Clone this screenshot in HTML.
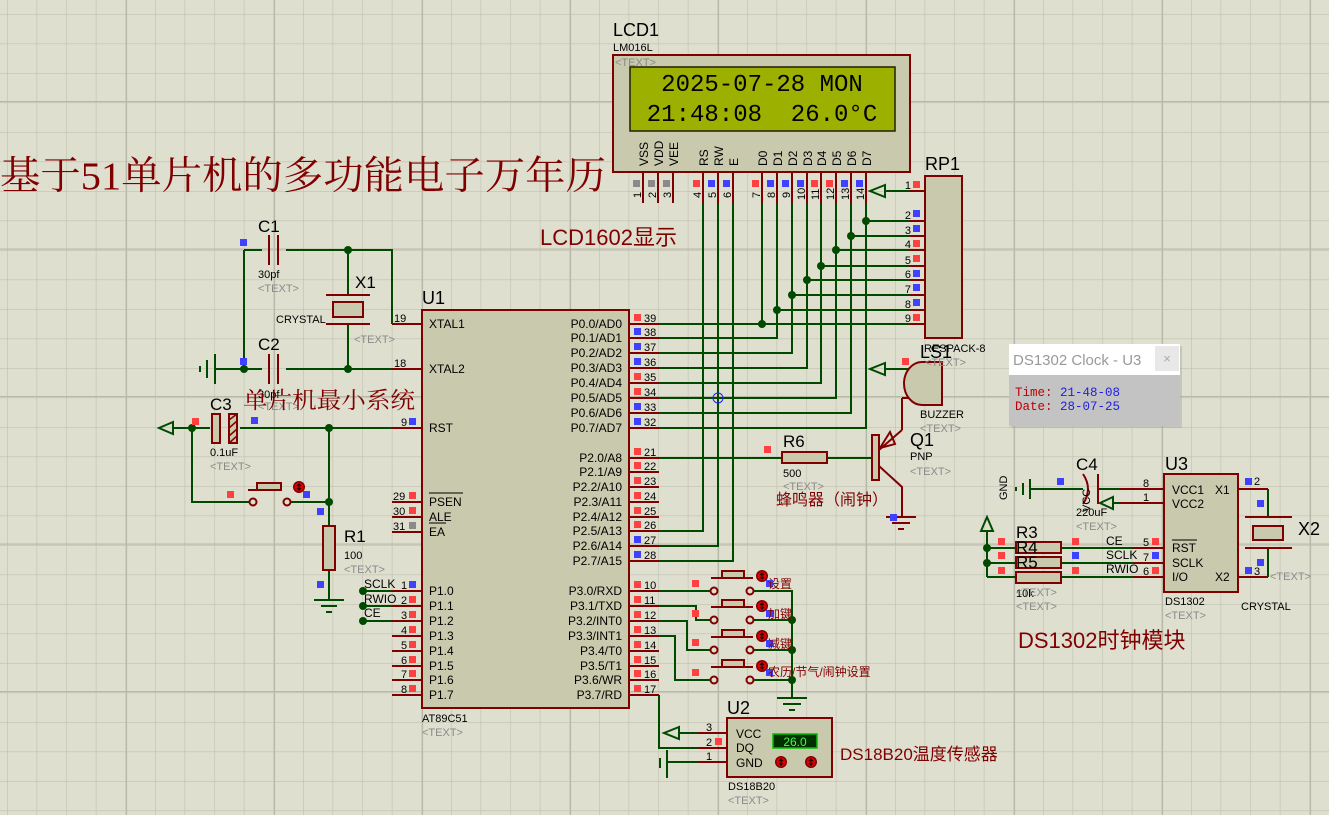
<!DOCTYPE html>
<html><head><meta charset="utf-8">
<style>
html,body{margin:0;padding:0;background:#dfdfd0;}
svg{display:block;}
text{font-family:"Liberation Sans","Noto Sans CJK SC",sans-serif;}
.p{font-size:12px;fill:#000;}
.s{font-size:11px;fill:#000;}
.g{font-size:11px;fill:#8a8a8a;}
.L{font-size:17px;fill:#000;}
.cn{fill:#800000;}
.w{stroke:#004a00;stroke-width:2;fill:none;}
.r{stroke:#800000;stroke-width:2;fill:none;}
.b{stroke:#800000;stroke-width:2;fill:#c9c9ad;}
</style></head><body>
<svg width="1329" height="815" viewBox="0 0 1329 815" xmlns="http://www.w3.org/2000/svg">
<defs>
<pattern id="gm" x="7" y="14" width="29.6" height="29.5" patternUnits="userSpaceOnUse">
<path d="M0 0V29.5M0 0H29.6" stroke="#c0c0b0" stroke-width="1.2" fill="none"/>
</pattern>
<pattern id="gM" x="126" y="101" width="148" height="147.5" patternUnits="userSpaceOnUse">
<path d="M0 0V147.5M0 0H148" stroke="#b8b8a8" stroke-width="2.2" fill="none"/>
</pattern>
<g id="dot"><circle r="4" fill="#004a00"/></g>
<g id="rq"><rect x="-3" y="-3" width="7" height="7" fill="#ff4040"/></g>
<g id="bq"><rect x="-3" y="-3" width="7" height="7" fill="#4040ff"/></g>
<g id="gq"><rect x="-3" y="-3" width="7" height="7" fill="#8a8a8a"/></g>
<g id="ico"><circle r="6" fill="#800000"/><circle r="4.5" fill="#e00000"/><path d="M0 -3V3M-2 -1L0 -3L2 -1M-2 1L0 3L2 1" stroke="#000" stroke-width="1" fill="none"/></g>
</defs>
<rect width="1329" height="815" fill="#dfdfd0"/>
<rect width="1329" height="815" fill="url(#gm)"/>
<rect width="1329" height="815" fill="url(#gM)"/>

<!-- Title -->
<text x="0" y="189" textLength="606" lengthAdjust="spacingAndGlyphs" style="font-family:'Liberation Serif','Noto Serif CJK SC',serif;font-size:39px;fill:#800000">基于51单片机的多功能电子万年历</text>
<text x="540" y="245" class="cn" style="font-size:22px">LCD1602显示</text>

<!-- LCD -->
<text x="613" y="36" class="L" style="font-size:18px">LCD1</text>
<text x="613" y="51" class="s">LM016L</text>
<rect x="613" y="55" width="297" height="117" class="b"/>
<text x="615" y="66" class="g">&lt;TEXT&gt;</text>
<rect x="630" y="67" width="265" height="64" fill="#9cb000" stroke="#202000" stroke-width="1.5"/>
<text x="762" y="91" text-anchor="middle" style="font-family:'Liberation Mono',monospace;font-size:24px;fill:#000">2025-07-28 MON</text>
<text x="762" y="121" text-anchor="middle" style="font-family:'Liberation Mono',monospace;font-size:24px;fill:#000" xml:space="preserve">21:48:08  26.0°C</text>
<g class="p" style="font-size:12px">
<text transform="translate(648,166) rotate(-90)">VSS</text>
<text transform="translate(663,166) rotate(-90)">VDD</text>
<text transform="translate(678,166) rotate(-90)">VEE</text>
<text transform="translate(708,166) rotate(-90)">RS</text>
<text transform="translate(723,166) rotate(-90)">RW</text>
<text transform="translate(738,166) rotate(-90)">E</text>
<text transform="translate(767,166) rotate(-90)">D0</text>
<text transform="translate(782,166) rotate(-90)">D1</text>
<text transform="translate(797,166) rotate(-90)">D2</text>
<text transform="translate(812,166) rotate(-90)">D3</text>
<text transform="translate(826,166) rotate(-90)">D4</text>
<text transform="translate(841,166) rotate(-90)">D5</text>
<text transform="translate(856,166) rotate(-90)">D6</text>
<text transform="translate(871,166) rotate(-90)">D7</text>
</g>
<g class="r"><path d="M643 172V203M658 172V203M673 172V203M703 172V203M718 172V203M733 172V203M762 172V203M777 172V203M792 172V203M807 172V203M821 172V203M836 172V203M851 172V203M866 172V203"/></g>
<g class="s">
<text transform="translate(641,198) rotate(-90)">1</text><text transform="translate(656,198) rotate(-90)">2</text><text transform="translate(671,198) rotate(-90)">3</text>
<text transform="translate(701,198) rotate(-90)">4</text><text transform="translate(716,198) rotate(-90)">5</text><text transform="translate(731,198) rotate(-90)">6</text>
<text transform="translate(760,198) rotate(-90)">7</text><text transform="translate(775,198) rotate(-90)">8</text><text transform="translate(790,198) rotate(-90)">9</text>
<text transform="translate(805,200) rotate(-90)">10</text><text transform="translate(819,200) rotate(-90)">11</text><text transform="translate(834,200) rotate(-90)">12</text>
<text transform="translate(849,200) rotate(-90)">13</text><text transform="translate(864,200) rotate(-90)">14</text>
</g>
<use href="#gq" x="636" y="183"/><use href="#gq" x="651" y="183"/><use href="#gq" x="666" y="183"/>
<use href="#rq" x="696" y="183"/><use href="#bq" x="711" y="183"/><use href="#bq" x="726" y="183"/>
<use href="#rq" x="755" y="183"/><use href="#bq" x="770" y="183"/><use href="#bq" x="785" y="183"/><use href="#bq" x="800" y="183"/>
<use href="#rq" x="814" y="183"/><use href="#rq" x="829" y="183"/><use href="#bq" x="844" y="183"/><use href="#bq" x="859" y="183"/>

<!-- LCD wires -->
<g class="w">
<path d="M703 203V531H659M718 203V546H659M733 203V561H659"/>
<path d="M762 203V324M777 203V338H659M792 203V353H659M807 203V368H659M821 203V383H659M836 203V398H659M851 203V413H659M866 203V428H659"/>
<path d="M659 324H910M777 310H910M792 295H910M807 280H910M821 266H910M836 250H910M851 236H910M866 221H910"/>
<path d="M885 191H910"/>
<path d="M885 185L870 191L885 197Z"/>
</g>
<use href="#dot" x="762" y="324"/><use href="#dot" x="777" y="310"/><use href="#dot" x="792" y="295"/><use href="#dot" x="807" y="280"/>
<use href="#dot" x="821" y="266"/><use href="#dot" x="836" y="250"/><use href="#dot" x="851" y="236"/><use href="#dot" x="866" y="221"/>
<circle cx="718" cy="398" r="5" stroke="#2020ff" stroke-width="1" fill="none"/>

<!-- RP1 -->
<text x="925" y="170" class="L" style="font-size:18px">RP1</text>
<rect x="925" y="176" width="37" height="162" class="b"/>
<g class="r"><path d="M910 191H925M910 221H925M910 236H925M910 250H925M910 266H925M910 280H925M910 295H925M910 310H925M910 324H925"/></g>
<g class="s" text-anchor="end">
<text x="911" y="189">1</text><text x="911" y="219">2</text><text x="911" y="234">3</text><text x="911" y="248">4</text><text x="911" y="264">5</text><text x="911" y="278">6</text><text x="911" y="293">7</text><text x="911" y="308">8</text><text x="911" y="322">9</text>
</g>
<use href="#rq" x="916" y="184"/><use href="#bq" x="916" y="213"/><use href="#bq" x="916" y="228"/><use href="#rq" x="916" y="243"/><use href="#rq" x="916" y="258"/><use href="#bq" x="916" y="273"/><use href="#bq" x="916" y="287"/><use href="#bq" x="916" y="302"/><use href="#rq" x="916" y="317"/>
<text x="924" y="352" class="s">RESPACK-8</text>

<!-- U1 -->
<text x="422" y="304" class="L" style="font-size:18px">U1</text>
<rect x="422" y="310" width="207" height="398" class="b"/>
<g class="r">
<path d="M392 324H422M392 369H422M392 428H422M392 502H422M392 517H422M392 532H422"/>
<path d="M392 591H422M392 606H422M392 621H422M392 636H422M392 651H422M392 666H422M392 680H422M392 695H422"/>
<path d="M629 324H659M629 338H659M629 353H659M629 368H659M629 383H659M629 398H659M629 413H659M629 428H659"/>
<path d="M629 458H659M629 472H659M629 487H659M629 502H659M629 517H659M629 531H659M629 546H659M629 561H659"/>
<path d="M629 591H659M629 606H659M629 621H659M629 636H659M629 651H659M629 666H659M629 680H659M629 695H659"/>
</g>
<g class="p">
<text x="429" y="328">XTAL1</text><text x="429" y="373">XTAL2</text><text x="429" y="432">RST</text>
<text x="429" y="506">PSEN</text><text x="429" y="521">ALE</text><text x="429" y="536">EA</text>
<text x="429" y="595">P1.0</text><text x="429" y="610">P1.1</text><text x="429" y="625">P1.2</text><text x="429" y="640">P1.3</text>
<text x="429" y="655">P1.4</text><text x="429" y="670">P1.5</text><text x="429" y="684">P1.6</text><text x="429" y="699">P1.7</text>
</g>
<path d="M429 493H463M429 523H446" stroke="#000" stroke-width="1"/>
<g class="p" text-anchor="end">
<text x="622" y="328">P0.0/AD0</text><text x="622" y="342">P0.1/AD1</text><text x="622" y="357">P0.2/AD2</text><text x="622" y="372">P0.3/AD3</text>
<text x="622" y="387">P0.4/AD4</text><text x="622" y="402">P0.5/AD5</text><text x="622" y="417">P0.6/AD6</text><text x="622" y="432">P0.7/AD7</text>
<text x="622" y="462">P2.0/A8</text><text x="622" y="476">P2.1/A9</text><text x="622" y="491">P2.2/A10</text><text x="622" y="506">P2.3/A11</text>
<text x="622" y="521">P2.4/A12</text><text x="622" y="535">P2.5/A13</text><text x="622" y="550">P2.6/A14</text><text x="622" y="565">P2.7/A15</text>
<text x="622" y="595">P3.0/RXD</text><text x="622" y="610">P3.1/TXD</text><text x="622" y="625">P3.2/INT0</text><text x="622" y="640">P3.3/INT1</text>
<text x="622" y="655">P3.4/T0</text><text x="622" y="670">P3.5/T1</text><text x="622" y="684">P3.6/WR</text><text x="622" y="699">P3.7/RD</text>
</g>
<g class="s">
<text x="644" y="322">39</text><text x="644" y="336">38</text><text x="644" y="351">37</text><text x="644" y="366">36</text><text x="644" y="381">35</text><text x="644" y="396">34</text><text x="644" y="411">33</text><text x="644" y="426">32</text>
<text x="644" y="456">21</text><text x="644" y="470">22</text><text x="644" y="485">23</text><text x="644" y="500">24</text><text x="644" y="515">25</text><text x="644" y="529">26</text><text x="644" y="544">27</text><text x="644" y="559">28</text>
<text x="644" y="589">10</text><text x="644" y="604">11</text><text x="644" y="619">12</text><text x="644" y="634">13</text><text x="644" y="649">14</text><text x="644" y="664">15</text><text x="644" y="678">16</text><text x="644" y="693">17</text>
<text x="394" y="322">19</text><text x="394" y="367">18</text><text x="401" y="426">9</text>
<text x="393" y="500">29</text><text x="393" y="515">30</text><text x="393" y="530">31</text>
<text x="401" y="589">1</text><text x="401" y="604">2</text><text x="401" y="619">3</text><text x="401" y="634">4</text><text x="401" y="649">5</text><text x="401" y="664">6</text><text x="401" y="678">7</text><text x="401" y="693">8</text>
</g>
<g>
<use href="#rq" x="637" y="317"/><use href="#bq" x="637" y="331"/><use href="#bq" x="637" y="346"/><use href="#bq" x="637" y="361"/><use href="#rq" x="637" y="376"/><use href="#rq" x="637" y="391"/><use href="#bq" x="637" y="406"/><use href="#bq" x="637" y="421"/>
<use href="#rq" x="637" y="451"/><use href="#rq" x="637" y="465"/><use href="#rq" x="637" y="480"/><use href="#rq" x="637" y="495"/><use href="#rq" x="637" y="510"/><use href="#rq" x="637" y="524"/><use href="#bq" x="637" y="539"/><use href="#bq" x="637" y="554"/>
<use href="#rq" x="637" y="584"/><use href="#rq" x="637" y="599"/><use href="#rq" x="637" y="614"/><use href="#rq" x="637" y="629"/><use href="#rq" x="637" y="644"/><use href="#rq" x="637" y="659"/><use href="#rq" x="637" y="673"/><use href="#rq" x="637" y="688"/>
<use href="#bq" x="412" y="421"/><use href="#rq" x="412" y="495"/><use href="#rq" x="412" y="510"/><use href="#gq" x="412" y="525"/>
<use href="#bq" x="412" y="584"/><use href="#rq" x="412" y="599"/><use href="#rq" x="412" y="614"/><use href="#rq" x="412" y="629"/><use href="#rq" x="412" y="644"/><use href="#rq" x="412" y="659"/><use href="#rq" x="412" y="673"/><use href="#rq" x="412" y="688"/>
</g>
<text x="422" y="722" class="s">AT89C51</text>
<text x="422" y="736" class="g">&lt;TEXT&gt;</text>

<!-- Left minimal system -->
<g class="w">
<path d="M244 250H262M286 250H392V324M244 250V369"/>
<path d="M348 250V295M348 324V369"/>
<path d="M215 369H262M286 369H392"/>
<path d="M173 428H210M240 428H392"/>
<path d="M192 428V502H250M291 502H329M329 428V526M329 570V600"/>
<path d="M363 591H392M363 606H392M363 621H392"/>
<path d="M215 354V384M207 360V378M200 366V372"/>
<path d="M173 422L159 428L173 434Z"/>
<path d="M314 600H344M321 606H337M326 612H332"/>
</g>
<g class="r">
<path d="M269 235V265M278 235V265M269 354V384M278 354V384"/>
<path d="M326 295H370M326 324H370"/>
</g>
<rect x="333" y="302" width="30" height="15" class="b"/>
<rect x="212" y="414" width="8" height="29" class="b"/>
<rect x="229" y="414" width="8" height="29" fill="#c9c9ad" stroke="#800000" stroke-width="2"/>
<path d="M229 420L237 414M229 428L237 421M229 436L237 429M229 443L237 436" stroke="#800000" stroke-width="1.5"/>
<rect x="323" y="526" width="12" height="44" class="b"/>
<g class="r"><path d="M248 490H282"/><circle cx="253" cy="502" r="3.5"/><circle cx="287" cy="502" r="3.5"/></g>
<rect x="257" y="483" width="24" height="7" class="b"/>
<use href="#ico" x="299" y="487"/>
<use href="#dot" x="348" y="250"/><use href="#dot" x="244" y="369"/><use href="#dot" x="348" y="369"/>
<use href="#dot" x="192" y="428"/><use href="#dot" x="329" y="428"/><use href="#dot" x="329" y="502"/>
<use href="#dot" x="363" y="591"/><use href="#dot" x="363" y="606"/><use href="#dot" x="363" y="621"/>
<use href="#bq" x="243" y="242"/><use href="#bq" x="243" y="361"/><use href="#rq" x="195" y="421"/><use href="#bq" x="254" y="420"/>
<use href="#rq" x="230" y="494"/><use href="#bq" x="306" y="494"/><use href="#bq" x="320" y="511"/><use href="#bq" x="320" y="584"/>
<text x="258" y="232" class="L">C1</text><text x="258" y="278" class="s">30pf</text><text x="258" y="292" class="g">&lt;TEXT&gt;</text>
<text x="355" y="288" class="L">X1</text><text x="276" y="323" class="s">CRYSTAL</text><text x="354" y="343" class="g">&lt;TEXT&gt;</text>
<text x="258" y="350" class="L">C2</text><text x="258" y="398" class="s">30pf</text><text x="258" y="410" class="g">&lt;TEXT&gt;</text>
<text x="210" y="410" class="L">C3</text><text x="210" y="456" class="s">0.1uF</text><text x="210" y="470" class="g">&lt;TEXT&gt;</text>
<text x="344" y="542" class="L">R1</text><text x="344" y="559" class="s">100</text><text x="344" y="573" class="g">&lt;TEXT&gt;</text>
<text x="364" y="588" class="p">SCLK</text><text x="364" y="603" class="p">RWIO</text><text x="364" y="617" class="p">CE</text>
<text x="243" y="408" textLength="172" lengthAdjust="spacingAndGlyphs" class="cn" style="font-family:'Liberation Serif','Noto Serif CJK SC',serif;font-size:23px">单片机最小系统</text>

<!-- Buzzer / Q1 -->
<g class="w">
<path d="M659 458H782M827 458H872"/>
<path d="M885 369H922M885 363L870 369L885 375Z"/>
</g>
<g class="r">
<path d="M902 398H922M902 398V430M879 450L902 430M879 466L902 487V517"/>
<path d="M886 517H916M892 523H910M898 529H904"/>
</g>
<path d="M890 432L880 448L895 444Z" fill="none" stroke="#800000" stroke-width="2"/>
<rect x="872" y="435" width="7" height="45" class="b"/>
<rect x="782" y="452" width="45" height="11" class="b"/>
<path d="M922 362A18 21.5 0 0 0 922 405H942V362Z" class="b"/>
<use href="#rq" x="767" y="449"/><use href="#bq" x="893" y="517"/><use href="#rq" x="905" y="361"/>
<text x="920" y="358" class="L" style="font-size:18px">LS1</text><text x="925" y="366" class="g">&lt;TEXT&gt;</text>
<text x="920" y="418" class="s">BUZZER</text><text x="920" y="432" class="g">&lt;TEXT&gt;</text>
<text x="910" y="446" class="L" style="font-size:18px">Q1</text><text x="910" y="460" class="s">PNP</text><text x="910" y="475" class="g">&lt;TEXT&gt;</text>
<text x="783" y="447" class="L">R6</text><text x="783" y="477" class="s">500</text><text x="783" y="490" class="g">&lt;TEXT&gt;</text>
<text x="776" y="505" class="cn" style="font-size:16px">蜂鸣器（闹钟）</text>

<!-- Keys -->
<g class="w">
<path d="M659 591H710M659 606H696V620H710M659 621H687V650H710M659 636H675V680H710"/>
<path d="M754 591H792V698M754 620H792M754 650H792M754 680H792"/>
<path d="M777 698H807M783 704H801M789 710H795"/>
<path d="M659 695V748H698M679 733H698M667 762H698M667 750V778M660 758V768M679 727L664 733L679 739Z"/>
</g>
<g class="r">
<path d="M711 578H753M711 607H753M711 637H753M711 667H753"/>
<circle cx="714" cy="591" r="3.5"/><circle cx="750" cy="591" r="3.5"/>
<circle cx="714" cy="620" r="3.5"/><circle cx="750" cy="620" r="3.5"/>
<circle cx="714" cy="650" r="3.5"/><circle cx="750" cy="650" r="3.5"/>
<circle cx="714" cy="680" r="3.5"/><circle cx="750" cy="680" r="3.5"/>
<path d="M698 733H727M698 748H727M698 762H727"/>
</g>
<rect x="722" y="571" width="22" height="7" class="b"/><rect x="722" y="600" width="22" height="7" class="b"/>
<rect x="722" y="630" width="22" height="7" class="b"/><rect x="722" y="660" width="22" height="7" class="b"/>
<use href="#ico" x="762" y="576"/><use href="#ico" x="762" y="606"/><use href="#ico" x="762" y="636"/><use href="#ico" x="762" y="666"/>
<use href="#dot" x="792" y="620"/><use href="#dot" x="792" y="650"/><use href="#dot" x="792" y="680"/>
<use href="#rq" x="695" y="583"/><use href="#rq" x="695" y="613"/><use href="#rq" x="695" y="642"/><use href="#rq" x="695" y="672"/>
<use href="#bq" x="769" y="583"/><use href="#bq" x="769" y="613"/><use href="#bq" x="769" y="643"/><use href="#bq" x="769" y="672"/>
<g class="cn" style="font-size:12px">
<text x="768" y="588">设置</text><text x="768" y="618">加键</text><text x="768" y="648">减键</text><text x="768" y="676">农历/节气/闹钟设置</text>
</g>

<!-- U2 -->
<text x="727" y="714" class="L" style="font-size:18px">U2</text>
<rect x="727" y="718" width="105" height="59" class="b"/>
<text x="736" y="738" class="p">VCC</text><text x="736" y="752" class="p">DQ</text><text x="736" y="767" class="p">GND</text>
<text x="706" y="731" class="s">3</text><text x="706" y="746" class="s">2</text><text x="706" y="760" class="s">1</text>
<use href="#rq" x="718" y="741"/>
<rect x="773" y="734" width="44" height="14" fill="#003000" stroke="#00c000" stroke-width="1.5"/>
<text x="795" y="746" text-anchor="middle" style="font-size:12px;fill:#40ff40">26.0</text>
<use href="#ico" x="781" y="762"/><use href="#ico" x="811" y="762"/>
<text x="728" y="790" class="s">DS18B20</text><text x="728" y="804" class="g">&lt;TEXT&gt;</text>
<text x="840" y="760" class="cn" style="font-size:17px">DS18B20温度传感器</text>

<!-- Popup -->
<rect x="1011" y="346" width="171" height="82" fill="#a0a0a0" opacity="0.4"/>
<rect x="1009" y="344" width="171" height="82" fill="#c3c3c3"/>
<rect x="1009" y="344" width="171" height="31" fill="#ffffff"/>
<rect x="1155" y="346" width="24" height="25" fill="#e8e8e8"/>
<text x="1167" y="363" text-anchor="middle" style="font-size:13px;fill:#aaa">×</text>
<text x="1013" y="365" style="font-size:15px;fill:#999">DS1302 Clock - U3</text>
<text x="1015" y="396" style="font-family:'Liberation Mono',monospace;font-size:12.5px;fill:#c00000">Time: <tspan fill="#2020e0">21-48-08</tspan></text>
<text x="1015" y="410" style="font-family:'Liberation Mono',monospace;font-size:12.5px;fill:#c00000">Date: <tspan fill="#2020e0">28-07-25</tspan></text>

<!-- U3 -->
<text x="1165" y="470" class="L" style="font-size:18px">U3</text>
<rect x="1164" y="474" width="74" height="118" class="b"/>
<g class="w">
<path d="M1030 489H1083M1098 489H1120M1113 503H1120M1113 497L1100 503L1113 509Z"/>
<path d="M1030 479V499M1023 483V495M1016 487V491"/>
<path d="M987 548H1016M987 563H1016M987 577H1016M1061 548H1134M1061 563H1134M1061 577H1134M987 530V577M981 531L987 517L993 531Z"/>
<path d="M1268 489V517M1268 548V577"/>
</g>
<g class="r">
<path d="M1120 489H1164M1120 503H1164M1134 548H1164M1134 563H1164M1134 577H1164M1238 489H1268M1238 577H1268"/>
<path d="M1098 474V504M1083 474Q1093 489 1083 504"/>
<path d="M1245 517H1292M1245 548H1292"/>
</g>
<rect x="1253" y="526" width="30" height="14" class="b"/>
<rect x="1016" y="542" width="45" height="11" class="b"/><rect x="1016" y="557" width="45" height="11" class="b"/><rect x="1016" y="572" width="45" height="11" class="b"/>
<use href="#dot" x="987" y="548"/><use href="#dot" x="987" y="563"/>
<use href="#bq" x="1060" y="481"/><use href="#rq" x="1001" y="541"/><use href="#rq" x="1001" y="555"/><use href="#rq" x="1001" y="570"/>
<use href="#rq" x="1075" y="541"/><use href="#bq" x="1075" y="555"/><use href="#rq" x="1075" y="570"/>
<use href="#rq" x="1155" y="541"/><use href="#bq" x="1155" y="555"/><use href="#rq" x="1155" y="570"/>
<use href="#bq" x="1248" y="481"/><use href="#bq" x="1260" y="503"/><use href="#bq" x="1248" y="570"/><use href="#bq" x="1260" y="562"/>
<g class="p">
<text x="1172" y="494">VCC1</text><text x="1172" y="508">VCC2</text><text x="1172" y="552">RST</text><text x="1172" y="567">SCLK</text><text x="1172" y="581">I/O</text>
<text x="1215" y="494">X1</text><text x="1215" y="581">X2</text>
<text x="1106" y="545">CE</text><text x="1106" y="559">SCLK</text><text x="1106" y="573">RWIO</text>
</g>
<path d="M1172 540H1197" stroke="#000" stroke-width="1"/>
<g class="s"><text x="1143" y="487">8</text><text x="1143" y="501">1</text><text x="1143" y="546">5</text><text x="1143" y="561">7</text><text x="1143" y="575">6</text><text x="1254" y="485">2</text><text x="1254" y="575">3</text></g>
<text transform="translate(1007,500) rotate(-90)" class="s">GND</text>
<text transform="translate(1090,512) rotate(-90)" class="s">VCC</text>
<text x="1076" y="470" class="L">C4</text><text x="1076" y="516" class="s">220uF</text><text x="1076" y="530" class="g">&lt;TEXT&gt;</text>
<text x="1016" y="538" class="L">R3</text><text x="1016" y="553" class="L">R4</text><text x="1016" y="568" class="L">R5</text>
<text x="1016" y="597" class="s">10k</text><text x="1016" y="596" class="g">&lt;TEXT&gt;</text><text x="1016" y="610" class="g">&lt;TEXT&gt;</text>
<text x="1165" y="605" class="s">DS1302</text><text x="1165" y="619" class="g">&lt;TEXT&gt;</text>
<text x="1298" y="535" class="L" style="font-size:18px">X2</text><text x="1241" y="610" class="s">CRYSTAL</text><text x="1270" y="580" class="g">&lt;TEXT&gt;</text>
<text x="1018" y="648" class="cn" style="font-size:22px">DS1302时钟模块</text>
</svg>
</body></html>
